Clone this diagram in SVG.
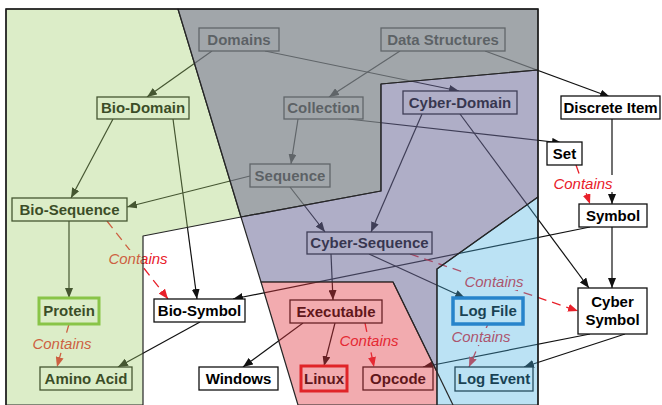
<svg xmlns="http://www.w3.org/2000/svg" width="662" height="405" viewBox="0 0 662 405">
  <style>
    .box { fill: #fff; stroke: #111; stroke-width: 1.3; }
    .lbl { font-family: "Liberation Sans", Arial, sans-serif; font-size: 15px; font-weight: bold; fill: #000; text-anchor: middle; }
    .edge { fill: none; stroke: #111; stroke-width: 1.2; }
    .rel { fill: none; stroke: #e8202a; stroke-width: 1.3; stroke-dasharray: 9 6; }
    .rtxt { font-family: "Liberation Sans", Arial, sans-serif; font-size: 15px; font-style: italic; fill: #e8202a; text-anchor: middle; }
    .rbg { fill: #fff; }
    .zone { stroke: #262626; stroke-width: 1.2; stroke-linejoin: round; }
  </style>
  <defs>
    <marker id="arr" viewBox="0 0 10 8" refX="10" refY="4" markerWidth="10" markerHeight="8" markerUnits="userSpaceOnUse" orient="auto">
      <path d="M0,0 L10,4 L0,8 Z" fill="#111"/>
    </marker>
    <marker id="arrRed" viewBox="0 0 10 8" refX="10" refY="4" markerWidth="10" markerHeight="8" markerUnits="userSpaceOnUse" orient="auto">
      <path d="M0,0 L10,4 L0,8 Z" fill="#e8202a"/>
    </marker>
  </defs>

  <rect x="0" y="0" width="662" height="405" fill="#fff"/>

  <!-- connectors -->
  <g id="connectors">
    <path class="edge" d="M212,51 L147,97" marker-end="url(#arr)"/>
    <path class="edge" d="M265,51 L459,91" marker-end="url(#arr)"/>
    <path class="edge" d="M400,51 L329,97" marker-end="url(#arr)"/>
    <path class="edge" d="M485,51 L610,97" marker-end="url(#arr)"/>
    <path class="edge" d="M113,119 L71,198" marker-end="url(#arr)"/>
    <path class="edge" d="M173,119 L197,299" marker-end="url(#arr)"/>
    <path class="edge" d="M298,119 L291,164" marker-end="url(#arr)"/>
    <path class="edge" d="M348,119 L562,143" marker-end="url(#arr)"/>
    <path class="edge" d="M422,114 L371,232" marker-end="url(#arr)"/>
    <path class="edge" d="M460,114 L589,288" marker-end="url(#arr)"/>
    <path class="edge" d="M612,119 L612,204" marker-end="url(#arr)"/>
    <path class="edge" d="M250,176 L127,207" marker-end="url(#arr)"/>
    <path class="edge" d="M290,187 L325,232" marker-end="url(#arr)"/>
    <path class="edge" d="M69,221 L69,298" marker-end="url(#arr)"/>
    <path class="edge" d="M590,227 L233,299" marker-end="url(#arr)"/>
    <path class="edge" d="M612,227 L612,288" marker-end="url(#arr)"/>
    <path class="edge" d="M331,254 L333,300" marker-end="url(#arr)"/>
    <path class="edge" d="M369,254 L465,298" marker-end="url(#arr)"/>
    <path class="edge" d="M200,322 L118,367" marker-end="url(#arr)"/>
    <path class="edge" d="M303,323 L243,367" marker-end="url(#arr)"/>
    <path class="edge" d="M335,323 L324,366" marker-end="url(#arr)"/>
    <path class="edge" d="M590,334 L423,367" marker-end="url(#arr)"/>
    <path class="edge" d="M625,334 L524,367" marker-end="url(#arr)"/>

    <!-- "Contains" relations -->
    <path class="rel" d="M576,165 L590,204" marker-end="url(#arrRed)"/>
    <rect class="rbg" x="552" y="175" width="62" height="17"/>
    <text class="rtxt" x="583" y="189">Contains</text>

    <path class="rel" d="M107,221 L168,299" marker-end="url(#arrRed)"/>
    <rect class="rbg" x="107" y="250" width="62" height="17"/>
    <text class="rtxt" x="138" y="264">Contains</text>

    <path class="rel" d="M410,254 L578,311" marker-end="url(#arrRed)"/>
    <rect class="rbg" x="463" y="273" width="62" height="17"/>
    <text class="rtxt" x="494" y="287">Contains</text>

    <path class="rel" d="M69,324 L57,367" marker-end="url(#arrRed)"/>
    <rect class="rbg" x="31" y="335" width="62" height="17"/>
    <text class="rtxt" x="62" y="349">Contains</text>

    <path class="rel" d="M365,323 L374,367" marker-end="url(#arrRed)"/>
    <rect class="rbg" x="338" y="332" width="62" height="17"/>
    <text class="rtxt" x="369" y="346">Contains</text>

    <path class="rel" d="M488,324 L469,367" marker-end="url(#arrRed)"/>
    <rect class="rbg" x="450" y="328" width="62" height="17"/>
    <text class="rtxt" x="481" y="342">Contains</text>
  </g>

  <!-- nodes -->
  <g id="domains"><rect class="box" x="199" y="28" width="80" height="23"/><text class="lbl" x="239" y="45">Domains</text></g>
  <g id="data-structures"><rect class="box" x="381" y="28" width="124" height="23"/><text class="lbl" x="443" y="45">Data Structures</text></g>
  <g id="bio-domain"><rect class="box" x="97" y="97" width="92" height="22"/><text class="lbl" x="143" y="113">Bio-Domain</text></g>
  <g id="collection"><rect class="box" x="284" y="97" width="79" height="22"/><text class="lbl" x="323.5" y="113">Collection</text></g>
  <g id="cyber-domain"><rect class="box" x="403" y="91" width="114" height="23"/><text class="lbl" x="460" y="108">Cyber-Domain</text></g>
  <g id="discrete-item"><rect class="box" x="561" y="96" width="99" height="23"/><text class="lbl" x="610.5" y="113">Discrete Item</text></g>
  <g id="set"><rect class="box" x="547" y="142" width="35" height="23"/><text class="lbl" x="564.5" y="159">Set</text></g>
  <g id="sequence"><rect class="box" x="250" y="164" width="80" height="23"/><text class="lbl" x="290" y="181">Sequence</text></g>
  <g id="bio-sequence"><rect class="box" x="12" y="198" width="115" height="23"/><text class="lbl" x="69.5" y="215">Bio-Sequence</text></g>
  <g id="symbol"><rect class="box" x="579" y="204" width="68" height="23"/><text class="lbl" x="613" y="221">Symbol</text></g>
  <g id="cyber-sequence"><rect class="box" x="307" y="232" width="125" height="22"/><text class="lbl" x="369.5" y="248">Cyber-Sequence</text></g>
  <g id="protein"><rect class="box" x="39" y="298" width="60" height="26" style="stroke:#7cbf35;stroke-width:3"/><text class="lbl" x="69" y="316">Protein</text></g>
  <g id="bio-symbol"><rect class="box" x="154" y="299" width="91" height="23"/><text class="lbl" x="199.5" y="316">Bio-Symbol</text></g>
  <g id="executable"><rect class="box" x="290" y="300" width="92" height="23"/><text class="lbl" x="336" y="317">Executable</text></g>
  <g id="log-file"><rect class="box" x="453" y="298" width="70" height="26" style="stroke:#156bbe;stroke-width:3.5"/><text class="lbl" x="488" y="316">Log File</text></g>
  <g id="cyber-symbol"><rect class="box" x="578" y="288" width="69" height="46"/><text class="lbl" x="612.5" y="307">Cyber</text><text class="lbl" x="612.5" y="325">Symbol</text></g>
  <g id="amino-acid"><rect class="box" x="40" y="367" width="92" height="23"/><text class="lbl" x="86" y="384">Amino Acid</text></g>
  <g id="windows"><rect class="box" x="199" y="367" width="79" height="23"/><text class="lbl" x="238.5" y="384">Windows</text></g>
  <g id="linux"><rect class="box" x="301" y="366" width="46" height="25" style="stroke:#e01818;stroke-width:3"/><text class="lbl" x="324" y="384">Linux</text></g>
  <g id="opcode"><rect class="box" x="363" y="367" width="70" height="23"/><text class="lbl" x="398" y="384">Opcode</text></g>
  <g id="log-event"><rect class="box" x="455" y="367" width="78" height="24"/><text class="lbl" x="494" y="384">Log Event</text></g>

  <!-- translucent domain zones laid over the graph -->
  <g id="zones">
    <polygon id="zone-bio" class="zone" points="6,9 178,9 241,217 143,236 143,405 6,405" fill="rgb(160,205,105)" fill-opacity="0.37"/>
    <polygon id="zone-data" class="zone" points="178,9 538,9 538,70 381,84 381,191 241,217" fill="rgb(126,133,138)" fill-opacity="0.73"/>
    <polygon id="zone-cyber" class="zone" points="381,84 538,70 538,197 437,269 437,372 393,282 261,282 241,217 381,191" fill="rgb(104,102,150)" fill-opacity="0.53"/>
    <polygon id="zone-exec" class="zone" points="261,282 393,282 437,372 437,405 298,405" fill="rgb(225,55,65)" fill-opacity="0.42"/>
    <polygon id="zone-log" class="zone" points="437,269 538,197 538,405 437,405" fill="rgb(70,175,225)" fill-opacity="0.37"/>
    <line class="zone" x1="437" y1="372" x2="453" y2="405"/>
  </g>

  <!-- frame -->
  <polyline points="6,405 6,9 538,9 538,405" fill="none" stroke="#1a1a1a" stroke-width="1.4"/>
</svg>
